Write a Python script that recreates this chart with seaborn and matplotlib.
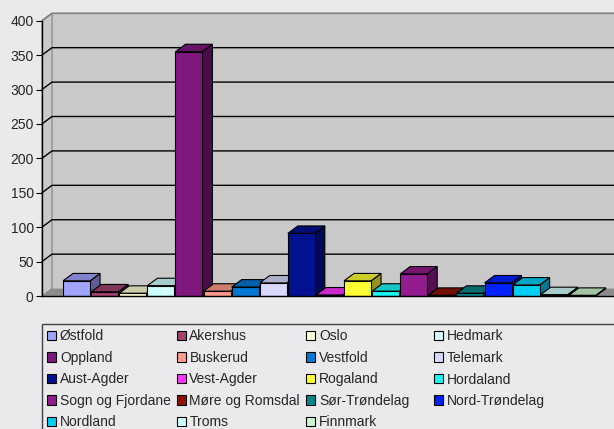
"""Registrerte tilfeller per fylke, 3D-stil søylediagram."""
import matplotlib
matplotlib.use("Agg")
import matplotlib.colors as mcolors
import matplotlib.pyplot as plt
import pandas as pd
import seaborn as sns
from matplotlib.patches import Polygon, Rectangle

counties = [
    "Østfold", "Akershus", "Oslo", "Hedmark", "Oppland", "Buskerud", "Vestfold",
    "Telemark", "Aust-Agder", "Vest-Agder", "Rogaland", "Hordaland",
    "Sogn og Fjordane", "Møre og Romsdal", "Sør-Trøndelag", "Nord-Trøndelag",
    "Nordland", "Troms", "Finnmark",
]
counts = [22, 6, 4, 15, 355, 7, 13, 19, 91, 1.5, 22, 7, 32, 1, 4, 19, 16, 2, 1]
colors = [
    "#A0A4FF", "#A3416F", "#FFFFD6", "#D0FFFF", "#80177E", "#FF9A8C", "#0077D2",
    "#D8D8FF", "#001290", "#FF33FF", "#FFFF33", "#1AF7F7", "#931C8F", "#8E1206",
    "#00878A", "#0022FF", "#00CFF5", "#D0FFFF", "#CCF5CC",
]
y_ticks = list(range(0, 401, 50))

W, H = 614, 429
BG = "#EAEAEC"
WALL = "#C9C9C9"
FLOOR = "#8C8C8C"

sns.set_theme(style="white")
plt.rcParams["font.family"] = ["Liberation Sans", "DejaVu Sans"]


def shade(c, f):
    r, g, b = mcolors.to_rgb(c)
    return (r * f, g * f, b * f)


fig = plt.figure(figsize=(W / 100, H / 100), dpi=100, facecolor=BG)
ax = fig.add_axes([42 / W, (H - 296) / H, 576 / W, 275.3 / H])
ax.patch.set_visible(False)

df = pd.DataFrame({"county": counties, "count": counts})
sns.barplot(data=df, x="county", y="count", hue="county", palette=colors,
            saturation=1, width=0.96, edgecolor="black", linewidth=0.8,
            legend=False, ax=ax, zorder=3)
bars = list(ax.patches)

xl0, xl1 = -1.23, 19.27
ax.set_xlim(xl0, xl1)
ax.set_ylim(0, 400)
dx = 10 / 28.1   # depth offset, category units
dy = 10.8        # depth offset, value units

# back wall, side wall, floor
ax.add_patch(Rectangle((xl0 + dx, dy), xl1 - xl0, 400, fc=WALL, ec="none",
                       zorder=0, clip_on=False))
ax.add_patch(Polygon([(xl0, 0), (xl0 + dx, dy), (xl0 + dx, 400 + dy), (xl0, 400)],
                     fc=WALL, ec="#808080", lw=0.8, zorder=0, clip_on=False))
ax.add_patch(Polygon([(xl0, 0), (xl1, 0), (xl1 + dx, dy), (xl0 + dx, dy)],
                     fc=FLOOR, ec="none", zorder=0.5, clip_on=False))
for v in y_ticks[1:-1]:
    ax.plot([xl0, xl0 + dx, xl1 + dx], [v, v + dy, v + dy], color="black",
            lw=1, zorder=1, clip_on=False)
ax.plot([xl0, xl0 + dx, xl1 + dx], [400, 400 + dy, 400 + dy], color="#808080",
        lw=1.2, zorder=1, clip_on=False)

# 3D faces for each bar
for bar in bars:
    x0, w, h = bar.get_x(), bar.get_width(), bar.get_height()
    fc = bar.get_facecolor()
    ax.add_patch(Polygon([(x0 + w, 0), (x0 + w + dx, dy), (x0 + w + dx, h + dy), (x0 + w, h)],
                         fc=shade(fc, 0.58), ec="black", lw=0.8, zorder=2, clip_on=False))
    ax.add_patch(Polygon([(x0, h), (x0 + dx, h + dy), (x0 + w + dx, h + dy), (x0 + w, h)],
                         fc=shade(fc, 0.8), ec="black", lw=0.8, zorder=2, clip_on=False))

for s in ["top", "right"]:
    ax.spines[s].set_visible(False)
for s in ["left", "bottom"]:
    ax.spines[s].set_color("black")
    ax.spines[s].set_linewidth(1)
    ax.spines[s].set_zorder(4)
ax.set_xticks([])
ax.set_yticks(y_ticks)
ax.tick_params(axis="y", length=4, width=0.8, color="black", direction="out",
               labelsize=10, pad=2, left=True)
ax.set_xlabel("")
ax.set_ylabel("")

# legend: Excel fills rows first, four equal-width columns
col_x = [47, 176.5, 306, 434]
for c, x in enumerate(col_x):
    idx = [r * 4 + c for r in range(5) if r * 4 + c < len(counties)]
    fig.legend([bars[i] for i in idx], [counties[i] for i in idx], loc="upper left",
               bbox_to_anchor=(x / W, 1 - 329.5 / H), borderaxespad=0, borderpad=0,
               frameon=False, handlelength=0.68, handleheight=0.68,
               handletextpad=0.25, labelspacing=0.54, fontsize=10)
fig.patches.append(Rectangle((42 / W, -0.05), 1.0, (H - 324) / H + 0.05,
                             transform=fig.transFigure, fill=False,
                             ec="#404040", lw=1))

fig.savefig("out.png", dpi=100, facecolor=BG)
